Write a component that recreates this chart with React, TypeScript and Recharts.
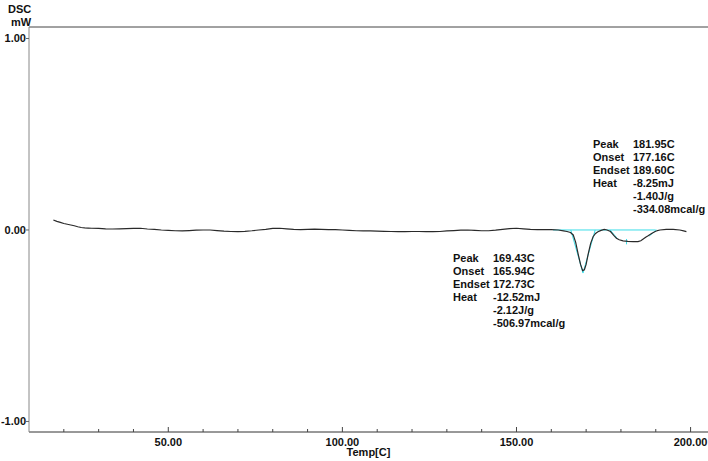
import React from "react";
import { LineChart, Line, XAxis, YAxis, ReferenceLine } from "recharts";

// DSC trace (temperature in C, heat flow in mW)
const temps = [
  17.0, 18.0, 19.0, 20.0, 21.0, 22.0, 23.0, 24.0, 25.0, 26.0, 27.0, 28.0, 30.0, 32.0, 34.0, 36.0,
  38.0, 40.0, 42.0, 44.0, 46.0, 48.0, 50.0, 52.0, 54.0, 56.0, 58.0, 60.0, 62.0, 64.0, 66.0, 68.0,
  70.0, 72.0, 74.0, 76.0, 78.0, 80.0, 82.0, 84.0, 86.0, 88.0, 90.0, 92.0, 94.0, 96.0, 98.0, 100.0,
  102.0, 104.0, 106.0, 108.0, 110.0, 112.0, 114.0, 116.0, 118.0, 120.0, 122.0, 124.0, 126.0, 128.0,
  130.0, 132.0, 134.0, 136.0, 138.0, 140.0, 142.0, 144.0, 146.0, 148.0, 150.0, 152.0, 154.0, 156.0,
  158.0, 160.0, 162.0, 163.5, 164.5, 165.5, 166.3, 167.0, 167.7, 168.4, 169.0, 169.5, 170.0, 170.6,
  171.3, 172.0, 172.7, 173.4, 174.3, 175.2, 176.0, 177.0, 178.0, 178.7, 179.5, 180.6, 182.0, 183.5,
  184.9, 185.7, 186.4, 187.1, 187.8, 188.8, 189.7, 190.5, 191.2, 193.0, 195.0, 196.9, 198.0, 198.8,
];
const dsc = [
  0.052, 0.045, 0.04, 0.034, 0.03, 0.026, 0.022, 0.017, 0.013, 0.011, 0.01, 0.009, 0.008, 0.006, 0.005, 0.006,
  0.007, 0.008, 0.009, 0.005, 0.003, 0.0, -0.002, -0.004, -0.005, -0.003, -0.001, 0.0, 0.0, -0.003, -0.006, -0.008,
  -0.009, -0.007, -0.004, 0.0, 0.003, 0.008, 0.009, 0.006, 0.003, 0.002, 0.003, 0.004, 0.003, 0.002, 0.002, 0.0,
  -0.002, -0.004, -0.005, -0.005, -0.006, -0.007, -0.008, -0.009, -0.009, -0.008, -0.008, -0.009, -0.009, -0.008,
  -0.005, -0.003, -0.001, 0.0, -0.002, -0.004, -0.004, -0.001, 0.003, 0.007, 0.009, 0.006, 0.003, 0.002,
  0.002, 0.002, 0.0, -0.005, -0.008, -0.013, -0.026, -0.065, -0.125, -0.18, -0.212, -0.208, -0.18, -0.125,
  -0.07, -0.035, -0.018, -0.009, -0.002, 0.003, 0.0, -0.008, -0.03, -0.043, -0.051, -0.057, -0.06, -0.061,
  -0.061, -0.056, -0.047, -0.038, -0.03, -0.018, -0.009, -0.003, 0.0, 0.003, 0.003, 0.0, -0.005, -0.009,
];

// analysis construction lines (baseline + tangents), in data units
const baselineSeg = [{ x: 160.5, y: 0 }, { x: 190, y: 0 }];
const peak1Left = [{ x: 165.6, y: 0 }, { x: 169.1, y: -0.225 }];
const peak1Right = [{ x: 169.1, y: -0.225 }, { x: 172.6, y: 0 }];
const peak2Left = [{ x: 176.9, y: 0 }, { x: 179.0, y: -0.045 }];
const peak2Right = [{ x: 188.1, y: -0.032 }, { x: 190.2, y: 0 }];
const peak2Mark = [{ x: 181.6, y: -0.047 }, { x: 181.6, y: -0.075 }];

const xTicks = [20, 30, 40, 50, 60, 70, 80, 90, 100, 110, 120, 130, 140, 150, 160, 170, 180, 190, 200];
const yTicks = [-1, 0, 1];

const peakLabels = ["Peak", "Onset", "Endset", "Heat", "", ""];
const peak2Values = ["181.95C", "177.16C", "189.60C", "-8.25mJ", "-1.40J/g", "-334.08mcal/g"];
const peak1Values = ["169.43C", "165.94C", "172.73C", "-12.52mJ", "-2.12J/g", "-506.97mcal/g"];

const data = temps.map((t, i) => ({ temp: t, dsc: dsc[i] }));

const FONT = "'Liberation Sans', Arial, sans-serif";
const CYAN = "#3cdde8";

function XTick(props: any) {
  const { x, y, payload } = props;
  const major = payload.value % 50 === 0;
  return (
    <g>
      <line x1={x} x2={x} y1={y} y2={y - (major ? 5 : 3)} stroke="#444" />
      {major && (
        <text x={x} y={y + 14} textAnchor="middle" fontSize={11} fontWeight="bold" fontFamily={FONT} fill="#111">
          {payload.value.toFixed(2)}
        </text>
      )}
    </g>
  );
}

function YTick(props: any) {
  const { x, y, payload } = props;
  return (
    <g>
      <line x1={x} x2={x - 3} y1={y} y2={y} stroke="#666" />
      <text x={x - 3} y={y + 4} textAnchor="end" fontSize={11} fontWeight="bold" fontFamily={FONT} fill="#111">
        {payload.value.toFixed(2)}
      </text>
    </g>
  );
}

function Block({ left, top, values }: { left: number; top: number; values: string[] }) {
  return (
    <div style={{ position: "absolute", left, top, fontFamily: FONT, fontSize: 11, fontWeight: "bold", lineHeight: "13px", color: "#111" }}>
      {values.map((v, i) => (
        <div key={i} style={{ display: "flex", height: 13 }}>
          <span style={{ width: 40, display: "inline-block" }}>{peakLabels[i]}</span>
          <span>{v}</span>
        </div>
      ))}
    </div>
  );
}

export default function App() {
  return (
    <div style={{ position: "absolute", left: 0, top: 0, width: 708, height: 461, background: "#fff" }}>
      <LineChart width={708} height={461} data={data} margin={{ top: 27, right: 0, bottom: 0, left: 0 }}>
        <XAxis
          dataKey="temp"
          type="number"
          domain={[10, 205]}
          ticks={xTicks}
          tick={<XTick />}
          tickLine={false}
          tickSize={0}
          tickMargin={0}
          height={29}
          stroke="#333"
          interval={0}
          allowDataOverflow
        />
        <YAxis
          type="number"
          domain={[-1.055, 1.06]}
          ticks={yTicks}
          tick={<YTick />}
          tickLine={false}
          tickSize={0}
          tickMargin={0}
          width={29}
          stroke="#888"
          interval={0}
          allowDataOverflow
        />
        <ReferenceLine y={1.06} stroke="#444" ifOverflow="visible" />
        <ReferenceLine segment={baselineSeg} stroke={CYAN} ifOverflow="visible" />
        <ReferenceLine segment={peak1Left} stroke={CYAN} ifOverflow="visible" />
        <ReferenceLine segment={peak1Right} stroke={CYAN} ifOverflow="visible" />
        <ReferenceLine segment={peak2Left} stroke={CYAN} ifOverflow="visible" />
        <ReferenceLine segment={peak2Right} stroke={CYAN} ifOverflow="visible" />
        <ReferenceLine segment={peak2Mark} stroke={CYAN} ifOverflow="visible" />
        <Line dataKey="dsc" type="linear" stroke="#2a2a2a" strokeWidth={1.2} dot={false} isAnimationActive={false} />
      </LineChart>
      <div style={{ position: "absolute", left: 8, top: 3, fontFamily: FONT, fontSize: 11, fontWeight: "bold", lineHeight: "13px", color: "#111" }}>
        DSC
      </div>
      <div style={{ position: "absolute", left: 11, top: 16, fontFamily: FONT, fontSize: 11, fontWeight: "bold", lineHeight: "13px", color: "#111" }}>
        mW
      </div>
      <div style={{ position: "absolute", left: 0, width: 737, top: 446, textAlign: "center", fontFamily: FONT, fontSize: 11, fontWeight: "bold", lineHeight: "13px", color: "#111" }}>
        Temp[C]
      </div>
      <Block left={593} top={138} values={peak2Values} />
      <Block left={453} top={252} values={peak1Values} />
    </div>
  );
}
